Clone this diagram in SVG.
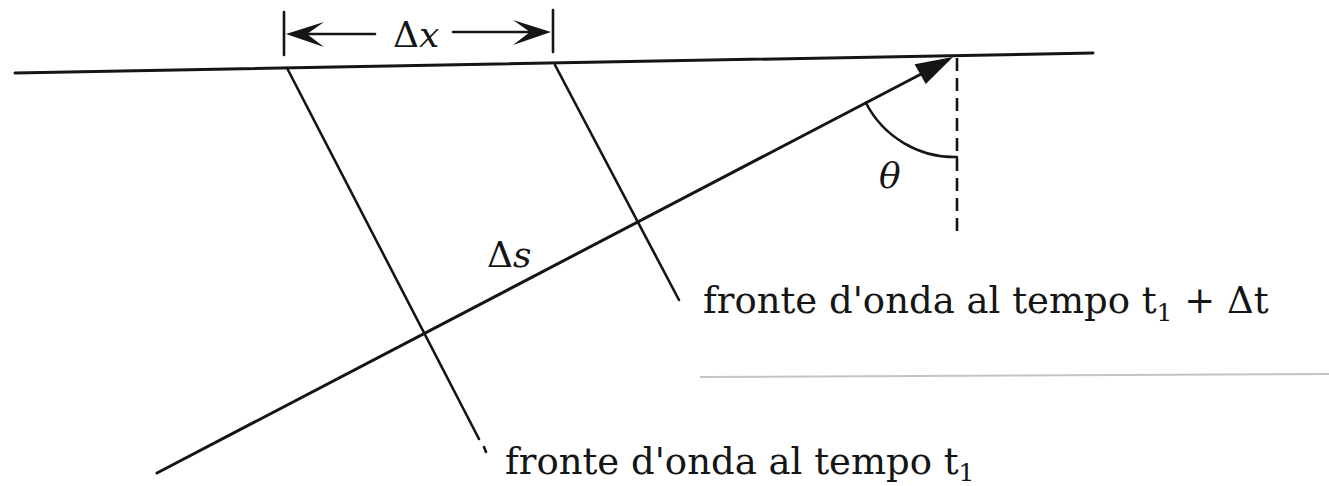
<svg xmlns="http://www.w3.org/2000/svg" width="1329" height="486" viewBox="0 0 1329 486">
<style>
.ln{stroke:#151515;stroke-width:2.6;fill:none;stroke-linecap:round}
.thick{stroke-width:3}
.dash{stroke:#151515;stroke-width:2.6;fill:none;stroke-dasharray:13 7}
.fill{fill:#151515;stroke:none}
.lbl{font-family:"DejaVu Serif","Liberation Serif",serif;font-size:37px;fill:#151515}
.sym{font-family:"DejaVu Serif","Liberation Serif",serif;font-size:36px;fill:#151515}
.it{font-style:italic}
.scan{stroke:#c4c4c4;stroke-width:2;fill:none}
</style>
<rect width="1329" height="486" fill="#ffffff"/>
<g id="connectors">
  <g id="surface"><line class="ln thick" x1="15" y1="73" x2="1093" y2="53"/></g>
  <g id="wavefront-t1">
    <line class="ln" x1="287" y1="68" x2="479" y2="439"/>
    <line class="ln" x1="484" y1="447" x2="486" y2="452"/>
  </g>
  <g id="wavefront-t1dt"><line class="ln" x1="555" y1="65" x2="679" y2="300"/></g>
  <g id="ray">
    <line class="ln thick" x1="157" y1="473" x2="925" y2="72"/>
    <path class="fill" d="M953,57 L914.6,64.2 L925.8,84 Z"/>
  </g>
  <g id="normal"><line class="dash" x1="957" y1="58" x2="957" y2="232"/></g>
  <g id="angle"><path class="ln" d="M866,103 A100,100 0 0 0 957,157"/></g>
  <g id="dx-bracket">
    <line class="ln" x1="284" y1="12" x2="284" y2="55"/>
    <line class="ln" x1="553" y1="10" x2="553" y2="52"/>
    <line class="ln" x1="300" y1="34" x2="375" y2="34"/>
    <line class="ln" x1="453" y1="32" x2="538" y2="32"/>
    <path class="fill" d="M286,34 L324,22 L307,34 L324,47 Z"/>
    <path class="fill" d="M551,32 L513,20 L530,32 L513,45 Z"/>
  </g>
  <g id="scan-line"><line class="scan" x1="700" y1="377" x2="1329" y2="374"/></g>
</g>
<g id="label-dx"><text class="sym" x="393" y="47">Δ<tspan class="it">x</tspan></text></g>
<g id="label-ds"><text class="sym" x="487" y="267">Δ<tspan class="it">s</tspan></text></g>
<g id="label-theta"><text class="sym it" x="879" y="188">θ</text></g>
<g id="label-front2"><text class="lbl" x="703" y="313">fronte d'onda al tempo t<tspan font-size="25" dy="8">1</tspan><tspan dy="-8"> + Δt</tspan></text></g>
<g id="label-front1"><text class="lbl" x="505" y="474">fronte d'onda al tempo t<tspan font-size="25" dy="7">1</tspan></text></g>
</svg>
